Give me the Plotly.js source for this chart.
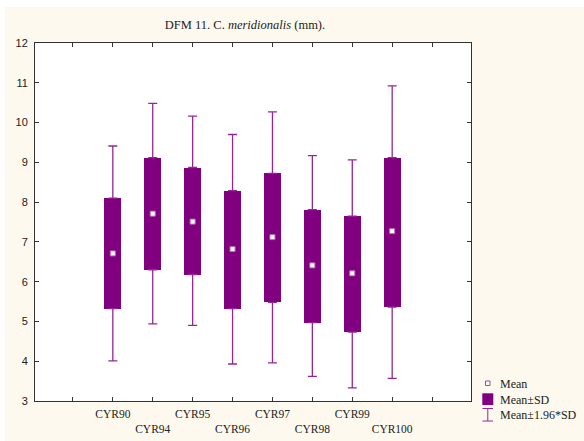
<!DOCTYPE html>
<html>
<head>
<meta charset="utf-8">
<script src="https://cdn.plot.ly/plotly-3.0.1.min.js"></script>
<style>html,body{margin:0;padding:0;background:#fff;}#chart{width:584px;height:441px;}</style>
</head>
<body>
<div id="chart"></div>
<script>
// Data
const categories = ['CYR90','CYR94','CYR95','CYR96','CYR97','CYR98','CYR99','CYR100'];
const meanVals   = [6.71, 7.71, 7.51, 6.82, 7.12, 6.41, 6.21, 7.27];
const sdLow      = [5.32, 6.30, 6.18, 5.32, 5.48, 4.97, 4.73, 5.36];
const sdHigh     = [8.10, 9.12, 8.87, 8.29, 8.72, 7.81, 7.65, 9.12];
const ciLow      = [4.01, 4.94, 4.90, 3.93, 3.96, 3.62, 3.33, 3.57];
const ciHigh     = [9.41, 10.48, 10.16, 9.70, 10.27, 9.17, 9.06, 10.92];
const yTicks     = [3,4,5,6,7,8,9,10,11,12];

const purple = '#800080';
const whisk = '#932893';
const xPos = categories.map((c,i)=>i+1);
const tickVals = [0].concat(xPos).concat([categories.length+1]);
const tickText = [''].concat(categories.map((c,i)=> i%2===0 ? c : '<br>'+c)).concat(['']);

const serif = 'Liberation Serif, Times New Roman, serif';
const sans = 'Liberation Sans, Arial, sans-serif';

const traces = [
  { type:'bar', x:xPos, base:sdLow, y:sdHigh.map((v,i)=>v-sdLow[i]), width:0.42,
    marker:{color:purple, line:{width:0}}, hoverinfo:'skip', showlegend:false },
  { type:'scatter', mode:'markers', x:xPos, y:sdHigh, marker:{opacity:0},
    error_y:{type:'data', symmetric:false, array:ciHigh.map((v,i)=>v-sdHigh[i]), arrayminus:sdHigh.map(()=>0),
      color:whisk, thickness:1.3, width:4.5}, showlegend:false, hoverinfo:'skip' },
  { type:'scatter', mode:'markers', x:xPos, y:sdLow, marker:{opacity:0},
    error_y:{type:'data', symmetric:false, array:sdLow.map(()=>0), arrayminus:sdLow.map((v,i)=>v-ciLow[i]),
      color:whisk, thickness:1.3, width:4.5}, showlegend:false, hoverinfo:'skip' },
  { type:'scatter', mode:'markers', x:xPos, y:meanVals,
    marker:{symbol:'square', size:5, color:'#ffffff', line:{color:'#b070b0', width:1}}, showlegend:false }
];

const W=584, H=441, L=35, R=113, T=43, B=40;
const pw = W-L-R, ph = H-T-B;
const px = x => (x-L)/pw;
const py = y => (H-B-y)/ph;

const shapes = [
  // white outer border top/left
  {type:'rect', xref:'paper', yref:'paper', x0:px(0), x1:px(W), y0:py(7), y1:py(0), fillcolor:'#ffffff', line:{width:0}, layer:'above'},
  {type:'rect', xref:'paper', yref:'paper', x0:px(0), x1:px(5), y0:py(H), y1:py(0), fillcolor:'#ffffff', line:{width:0}, layer:'above'},
  // legend icons
  {type:'rect', xref:'paper', yref:'paper', x0:px(485.5), x1:px(490), y0:py(385.5), y1:py(381), fillcolor:'#ffffff', line:{color:'#9a4a9a', width:1}},
  {type:'rect', xref:'paper', yref:'paper', x0:px(482.3), x1:px(493.3), y0:py(405), y1:py(393.3), fillcolor:purple, line:{width:0}},
  {type:'line', xref:'paper', yref:'paper', x0:px(487.8), x1:px(487.8), y0:py(421), y1:py(408.5), line:{color:whisk, width:1}},
  {type:'line', xref:'paper', yref:'paper', x0:px(482.5), x1:px(493), y0:py(408.5), y1:py(408.5), line:{color:whisk, width:1}},
  {type:'line', xref:'paper', yref:'paper', x0:px(482.5), x1:px(493), y0:py(421), y1:py(421), line:{color:whisk, width:1}}
];

const legTexts = [['Mean',383.5],['Mean±SD',399.5],['Mean±1.96*SD',415]];
const annotations = legTexts.map(([t,y])=>({
  text:t, xref:'paper', yref:'paper', x:px(498), y:py(y), xanchor:'left', yanchor:'middle',
  showarrow:false, font:{family:serif, size:12, color:'#222'}
}));

const layout = {
  width:W, height:H,
  margin:{l:L, r:R, t:T, b:B, pad:0},
  paper_bgcolor:'#fdf9ee', plot_bgcolor:'#ffffff',
  title:{text:'DFM 11. C. <i>meridionalis</i> (mm).', x:245/W, xanchor:'center', xref:'container',
    y:1-25/H, yanchor:'middle', yref:'container', font:{family:serif, size:12.5, color:'#222'}},
  xaxis:{range:[-0.95, 9.975], tickvals:tickVals, ticktext:tickText, tickangle:0, ticks:'inside', ticklen:4,
    tickcolor:'#333', showline:true, linecolor:'#333', linewidth:1, mirror:'ticks', automargin:false,
    showgrid:false, zeroline:false, tickfont:{family:serif, size:11.5, color:'#222'}, ticklabelstandoff:2, fixedrange:true},
  yaxis:{range:[3,12], tickvals:yTicks, ticks:'inside', ticklen:4, tickcolor:'#333', automargin:false,
    showline:true, linecolor:'#333', linewidth:1, mirror:'ticks', showgrid:false, zeroline:false,
    tickfont:{family:sans, size:11, color:'#222'}, ticklabelstandoff:4, fixedrange:true},
  shapes:shapes, annotations:annotations, showlegend:false, bargap:0
};

Plotly.newPlot('chart', traces, layout, {staticPlot:true, displayModeBar:false});
</script>
</body>
</html>
